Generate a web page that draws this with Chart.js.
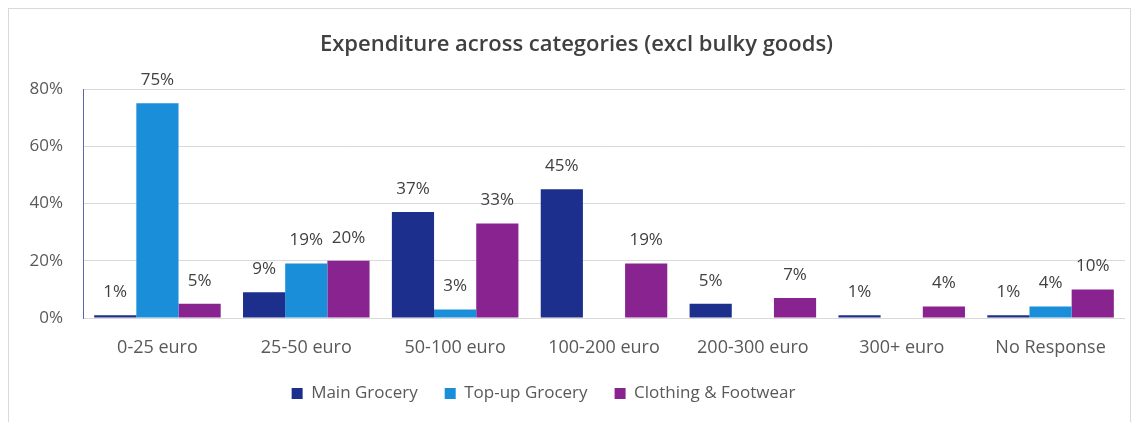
<!DOCTYPE html>
<html>
<head>
<meta charset="utf-8">
<script src="https://cdn.jsdelivr.net/npm/chart.js@4"></script>
<style>
  html, body { margin: 0; padding: 0; background: #fff; }
  #frame { position: absolute; left: 8px; top: 8px; width: 1121px; height: 430px; border: 1px solid #d9d9d9; }
  #wrap { position: absolute; left: 0; top: 0; width: 1137px; height: 422px; }
</style>
</head>
<body>
<div id="frame"></div>
<div id="wrap"><canvas id="chart"></canvas></div>
<script>
const categories = ["0-25 euro", "25-50 euro", "50-100 euro", "100-200 euro", "200-300 euro", "300+ euro", "No Response"];
const mainGrocery = [1, 9, 37, 45, 5, 1, 1];
const topupGrocery = [75, 19, 3, null, null, null, 4];
const clothing = [5, 20, 33, 19, 7, 4, 10];
const yTicks = [0, 20, 40, 60, 80];

const FONT = "'Open Sans', sans-serif";

// value labels above each bar
const barLabels = {
  id: "barLabels",
  afterDatasetsDraw(chart) {
    const ctx = chart.ctx;
    ctx.save();
    ctx.font = "17px " + FONT;
    ctx.fillStyle = "#404040";
    ctx.textAlign = "center";
    ctx.textBaseline = "middle";
    chart.data.datasets.forEach((ds, i) => {
      chart.getDatasetMeta(i).data.forEach((bar, j) => {
        if (ds.data[j] == null) return;
        ctx.fillText(ds.data[j] + "%", bar.x, bar.y - 23);
      });
    });
    ctx.restore();
  }
};

// legend sits a bit left of centre in the original
const legendShift = {
  id: "legendShift",
  afterLayout(chart) {
    chart.legend.left -= 33;
    chart.legend.right -= 33;
  }
};

new Chart(document.getElementById("chart"), {
  type: "bar",
  data: {
    labels: categories,
    datasets: [
      { label: "Main Grocery", data: mainGrocery, backgroundColor: "#1c2f8c" },
      { label: "Top-up Grocery", data: topupGrocery, backgroundColor: "#1b8ed9" },
      { label: "Clothing & Footwear", data: clothing, backgroundColor: "#88238f" }
    ]
  },
  options: {
    responsive: true,
    maintainAspectRatio: false,
    animation: false,
    layout: { padding: { left: 28, right: 12, top: 32, bottom: 10 } },
    categoryPercentage: 0.85,
    barPercentage: 1.0,
    plugins: {
      title: {
        display: true,
        text: "Expenditure across categories (excl bulky goods)",
        color: "#404040",
        font: { family: FONT, size: 22, weight: "600" },
        padding: { top: 0, bottom: 30.6 }
      },
      legend: {
        position: "bottom",
        labels: {
          color: "#595959",
          font: { family: FONT, size: 17 },
          boxWidth: 11,
          boxHeight: 11,
          padding: 27
        }
      },
      tooltip: { enabled: false }
    },
    scales: {
      x: {
        afterFit(scale) { scale.height = 40; },
        grid: { display: false, drawTicks: false },
        border: { display: false },
        ticks: { color: "#595959", font: { family: FONT, size: 18 }, padding: 19 }
      },
      y: {
        min: 0,
        max: 80,
        afterFit(scale) { scale.width = 55; },
        afterBuildTicks(axis) { axis.ticks = yTicks.map(v => ({ value: v })); },
        grid: { color: "#d9d9d9", drawTicks: false },
        border: { display: true, color: "#5a67a8" },
        ticks: {
          color: "#595959",
          font: { family: FONT, size: 17 },
          padding: 20,
          callback: v => v + "%"
        }
      }
    }
  },
  plugins: [barLabels, legendShift]
});
</script>
</body>
</html>
